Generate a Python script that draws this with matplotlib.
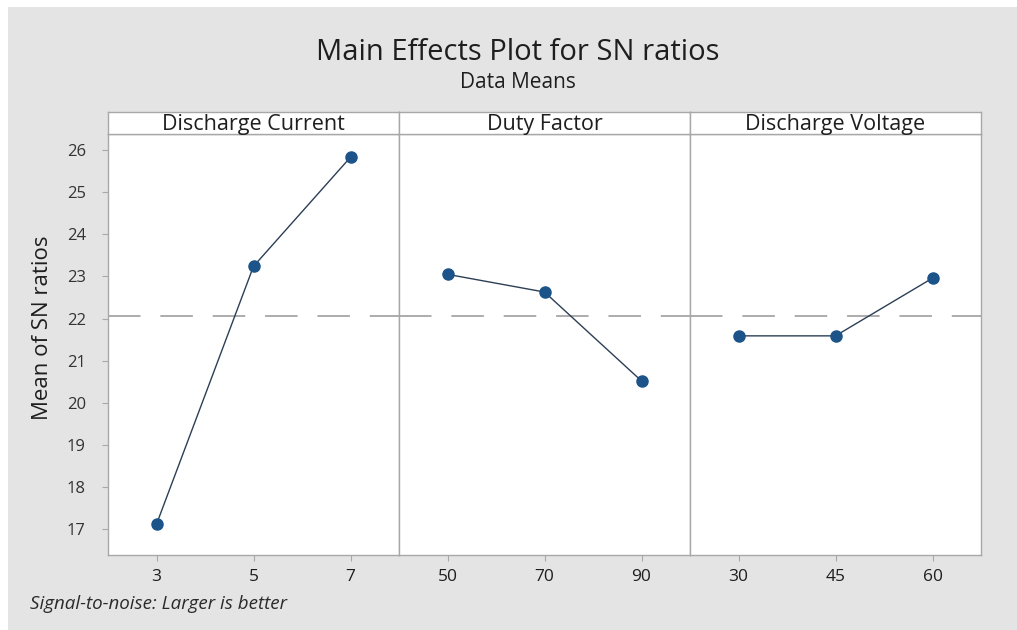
import matplotlib
matplotlib.use('Agg')
import matplotlib.pyplot as plt
from matplotlib.patches import Rectangle

plt.rcParams['font.family'] = ['Open Sans', 'DejaVu Sans']

factors = ['Discharge Current', 'Duty Factor', 'Discharge Voltage']
levels = [['3', '5', '7'], ['50', '70', '90'], ['30', '45', '60']]
sn_means = [
    [17.12, 23.24, 25.83],
    [23.05, 22.63, 20.52],
    [21.59, 21.59, 22.96],
]
overall_mean = 22.06
y_ticks = [17, 18, 19, 20, 21, 22, 23, 24, 25, 26]

W, H = 1017, 630
fig = plt.figure(figsize=(W / 100, H / 100), dpi=100)
fig.patch.set_facecolor('white')
fig.patches.append(Rectangle((8 / W, 0), 1, 1 - 7 / H, transform=fig.transFigure,
                             facecolor='#e4e4e4', edgecolor='none', zorder=-10))

left, right = 108 / W, 981 / W
bottom, top = 1 - 555 / H, 1 - 134 / H
strip_h = 22 / H
pw = (right - left) / 3
edge = '#a8a8a8'
txt = '#1e1e1e'

for i, name in enumerate(factors):
    ax = fig.add_axes([left + i * pw, bottom, pw, top - bottom])
    ax.set_facecolor('white')
    x = [1, 2, 3]
    ax.axhline(overall_mean, color='#a6a6a6', lw=1.3, dashes=(18, 11), zorder=1)
    ax.plot(x, sn_means[i], color='#2b3f55', lw=1.0, zorder=2)
    ax.plot(x, sn_means[i], 'o', color='#1c5389', ms=8, zorder=3)
    ax.set_xlim(0.5, 3.5)
    ax.set_ylim(16.39, 26.38)
    ax.set_xticks(x)
    ax.set_xticklabels(levels[i])
    ax.set_yticks(y_ticks)
    ax.tick_params(axis='x', length=4, color=edge, pad=6, labelsize=12.5, labelcolor=txt)
    ax.tick_params(axis='y', length=4, color=edge, pad=12, labelsize=12, labelcolor='#333333')
    if i > 0:
        ax.tick_params(axis='y', left=False, labelleft=False)
    for s in ax.spines.values():
        s.set_color(edge)
        s.set_linewidth(1.0)

    sax = fig.add_axes([left + i * pw, top, pw, strip_h])
    sax.set_facecolor('white')
    sax.set_xticks([])
    sax.set_yticks([])
    for s in sax.spines.values():
        s.set_color(edge)
        s.set_linewidth(1.0)
    sax.text(0.5, 0.45, name, ha='center', va='center', fontsize=15.5,
             color=txt, transform=sax.transAxes)

fig.text(518 / W, 1 - 52 / H, 'Main Effects Plot for SN ratios', ha='center', va='center',
         fontsize=21, color=txt)
fig.text(518 / W, 1 - 82 / H, 'Data Means', ha='center', va='center',
         fontsize=15, color=txt)
fig.text(43 / W, 1 - 328 / H, 'Mean of SN ratios', rotation=90, ha='center', va='center',
         fontsize=16, color=txt)
fig.text(30 / W, 1 - 604 / H, 'Signal-to-noise: Larger is better', ha='left', va='center',
         fontsize=13.5, style='italic', color='#2a2a2a')

fig.savefig('out.png', dpi=100)
